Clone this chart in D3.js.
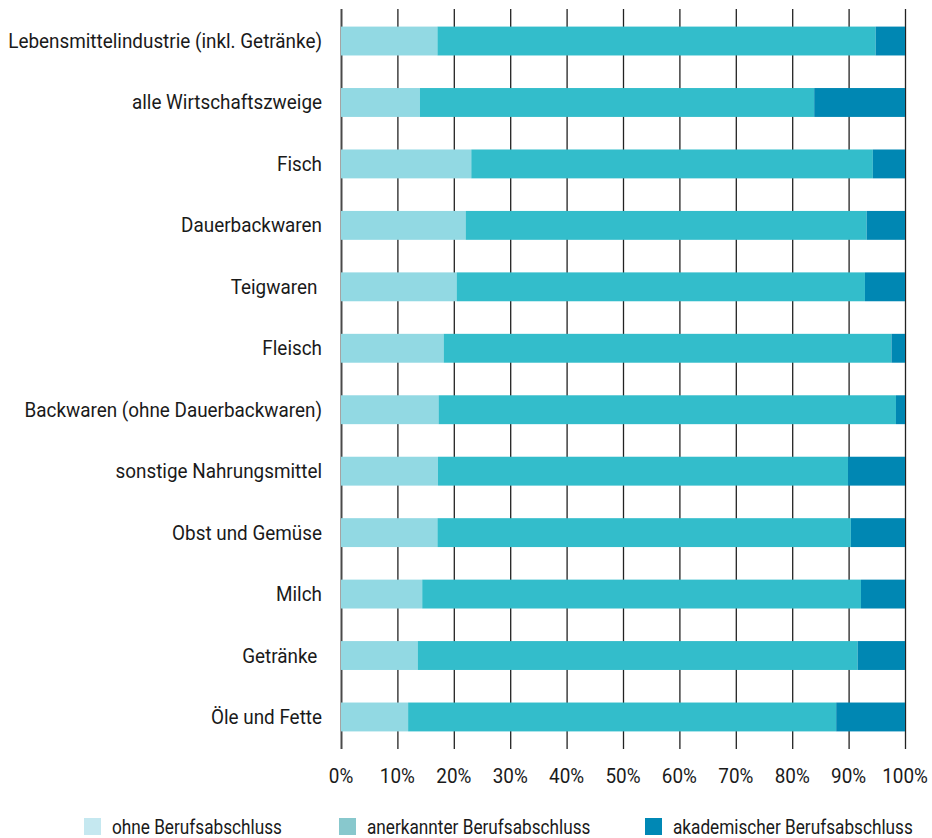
<!DOCTYPE html>
<html><head><meta charset="utf-8">
<script src="https://cdn.jsdelivr.net/npm/d3@7"></script>
<style>
html,body{margin:0;padding:0;background:#fff;}
text{font-family:"Roboto","Liberation Sans",sans-serif;fill:#1a1a1a;}
</style></head>
<body><svg id="chart" width="932" height="838"></svg>
<script>
const categories = ["Lebensmittelindustrie (inkl. Getränke)","alle Wirtschaftszweige","Fisch","Dauerbackwaren","Teigwaren ","Fleisch","Backwaren (ohne Dauerbackwaren)","sonstige Nahrungsmittel","Obst und Gemüse","Milch","Getränke ","Öle und Fette"];
const seriesNames = ["ohne Berufsabschluss","anerkannter Berufsabschluss","akademischer Berufsabschluss"];
const ohne = [17.1,14.0,23.1,22.1,20.5,18.2,17.3,17.2,17.1,14.4,13.6,11.9];
const anerkannt = [77.7,69.9,71.2,71.1,72.4,79.4,81.1,72.7,73.3,77.8,78.0,75.9];
const akademisch = [5.2,16.1,5.7,6.8,7.1,2.4,1.6,10.1,9.6,7.8,8.4,12.2];
const tickValues = [0,10,20,30,40,50,60,70,80,90,100];
const barColors = ["#92d9e3","#33bdcb","#0087b3"];
const legendColors = ["#c5e8f0","#88c8cd","#0088b5"];

(function(){
const svg = d3.select("#chart");
const mLeft = 341, mRight = 905, mTop = 9, plotBottom = 749;
const fs = 20;
const x = d3.scaleLinear().domain([0,100]).range([mLeft,mRight]);
const y = d3.scaleBand().domain(categories).range([mTop+1, plotBottom-1]).paddingInner(0.53).paddingOuter(0.27);

function measure(t){
  const p = svg.append("text").attr("font-size",fs).text(t);
  const w = p.node().getComputedTextLength(); p.remove(); return w;
}
const sx = 314 / measure(categories[0]);
const sxLeg = 240 / measure(seriesNames[2]);

svg.append("g").selectAll("line").data(tickValues).join("line")
  .attr("x1",d=>x(d)+0.5).attr("x2",d=>x(d)+0.5)
  .attr("y1",mTop).attr("y2",plotBottom)
  .attr("stroke",d=>d===0?"#4a4a4a":"#222").attr("stroke-width",d=>d===0?2:1.3);

const rows = categories.map((c,i)=>({c, vals:[ohne[i],anerkannt[i],akademisch[i]]}));
const segs = [];
rows.forEach(r=>{let acc=0; r.vals.forEach((v,k)=>{segs.push({c:r.c,x0:acc,x1:acc+v,k}); acc+=v;});});
svg.append("g").selectAll("rect").data(segs).join("rect")
  .attr("x",d=>x(d.x0)).attr("width",d=>x(d.x1)-x(d.x0))
  .attr("y",d=>y(d.c)).attr("height",y.bandwidth())
  .attr("fill",d=>barColors[d.k]);

svg.append("g").selectAll("text").data(categories).join("text")
  .attr("transform",d=>`translate(322,${y(d)+y.bandwidth()/2}) scale(${sx},1)`)
  .attr("dy","0.35em").attr("text-anchor","end")
  .attr("font-size",fs).style("white-space","pre")
  .text(d=>d);

svg.append("g").selectAll("text").data(tickValues).join("text")
  .attr("transform",d=>`translate(${x(d)},776) scale(${sx},1)`).attr("dy","0.35em")
  .attr("text-anchor","middle").attr("font-size",fs)
  .text(d=>d+"%");

const legX = [84,339,645];
const lg = svg.append("g").selectAll("g").data(seriesNames).join("g")
  .attr("transform",(d,i)=>`translate(${legX[i]},818)`);
lg.append("rect").attr("width",17).attr("height",17).attr("fill",(d,i)=>legendColors[i]);
lg.append("text").attr("transform",`translate(28,9) scale(${sxLeg},1)`).attr("dy","0.35em").attr("font-size",fs).text(d=>d);
})();
</script></body></html>
